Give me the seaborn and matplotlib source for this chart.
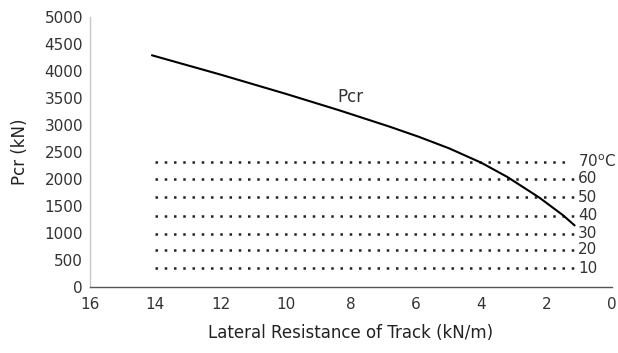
import matplotlib
matplotlib.use("Agg")
import matplotlib.pyplot as plt
import seaborn as sns
import pandas as pd
import numpy as np

# Pcr curve
resistance = [14.1, 12.0, 10.0, 8.37, 6.83, 5.91, 4.98, 4.0, 3.2, 2.22, 1.5, 1.14]
pcr = [4290, 3933, 3577, 3274, 2972, 2779, 2565, 2300, 2036, 1654, 1330, 1140]

# temperature force lines
temps = ['10', '20', '30', '40', '50', '60', '70']
temp_force = [350, 685, 990, 1320, 1665, 2000, 2320]
line_start = 14.0
line_end = [1.12, 1.12, 1.12, 1.12, 1.12, 1.12, 1.35]

xticks = [16, 14, 12, 10, 8, 6, 4, 2, 0]
yticks = [0, 500, 1000, 1500, 2000, 2500, 3000, 3500, 4000, 4500, 5000]

sns.set_style("white")
plt.rcParams['font.family'] = ['DejaVu Sans']

df = pd.DataFrame({'R': resistance, 'P': pcr})

fig = plt.figure(figsize=(6.18, 3.53), dpi=100)
ax = fig.add_axes([0.1456, 0.187, 0.8444, 0.765])

for t, f, e in zip(temps, temp_force, line_end):
    ax.plot([line_start, e], [f, f], color='#222222', lw=1.8,
            linestyle=(0, (1, 2.7)), dash_capstyle='butt')
    lab = t + '$^{\\mathregular{o}}$C' if t == '70' else t
    ax.text(1.04, f, lab, fontsize=11, color='#333333', va='center', ha='left')

sns.lineplot(data=df, x='R', y='P', ax=ax, color='black', lw=1.5, sort=False)
ax.text(8.0, 3520, 'Pcr', fontsize=12, color='#333333', ha='center', va='center')

ax.set_xlim(16, 0)
ax.set_ylim(0, 5000)
ax.set_xticks(xticks)
ax.set_yticks(yticks)
ax.set_xlabel('Lateral Resistance of Track (kN/m)', fontsize=12, color='#222222', labelpad=9)
ax.set_ylabel('Pcr (kN)', fontsize=12, color='#222222', labelpad=11)

for s in ['top', 'right']:
    ax.spines[s].set_visible(False)
ax.spines['left'].set_color('#c8c8c8')
ax.spines['left'].set_linewidth(1.0)
ax.spines['bottom'].set_color('#555555')
ax.spines['bottom'].set_linewidth(1.0)
ax.tick_params(axis='x', direction='out', length=4, color='#666666', labelsize=11,
               labelcolor='#333333', pad=3)
ax.tick_params(axis='y', direction='out', length=3, color='#c8c8c8', labelsize=11,
               labelcolor='#333333', pad=2)

fig.savefig('out.png', dpi=100)
